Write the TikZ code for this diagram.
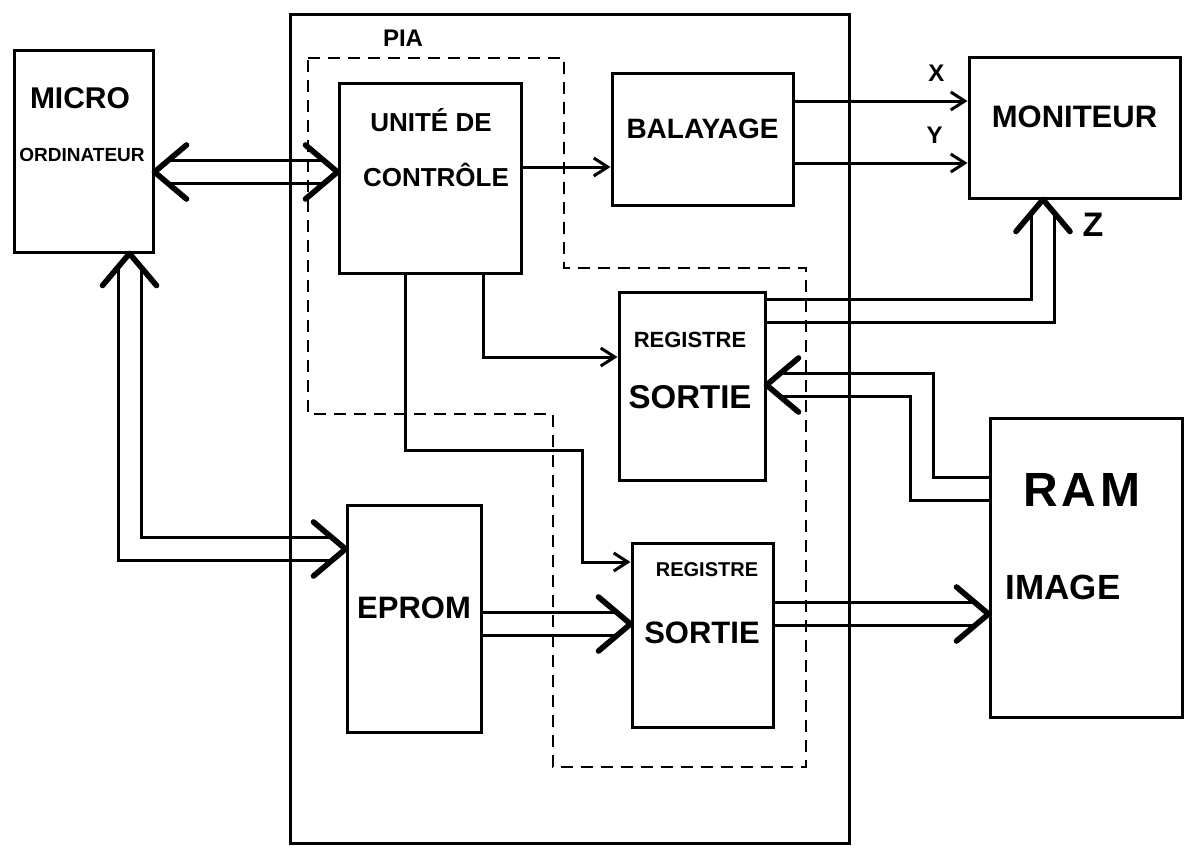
\documentclass[tikz,border=0pt]{standalone}
\usepackage{fontspec}
\setmainfont{Liberation Sans}
\usetikzlibrary{arrows.meta,positioning,fit,calc}

\begin{document}
\begin{tikzpicture}[x=0.5pt,y=-0.5pt,
  blk/.style={draw,line width=1.5pt,inner sep=0pt},
  txt/.style={inner sep=0pt,align=center},
  every node/.style={font=\bfseries},
  sig/.style={line width=1.5pt,-{Straight Barb[length=7pt,width=9pt]}},
  bus/.style={line width=1.5pt,double=white,double distance=10pt},
  hd/.style={line width=2.8pt,line cap=round,line join=round},
  pialine/.style={line width=1.3pt,dash pattern=on 6pt off 4pt}]
\useasboundingbox (0,0) rectangle (1194,847);
% blocs
\node[blk,fit={(14,50) (153,252)}] (micro) {};
\node[txt,font=\bfseries\fontsize{15}{17}\selectfont] (microA) at (80,98) {MICRO};
\node[txt,font=\bfseries\fontsize{9.5}{12}\selectfont] (microB) at (82,155) {ORDINATEUR};
\node[blk,fit={(339,83) (521,273)}] (ctrl) {};
\node[txt,font=\bfseries\fontsize{13}{15}\selectfont] (ctrlA) at (431,120) {UNITÉ DE};
\node[txt,font=\bfseries\fontsize{13}{15}\selectfont] (ctrlB) at (436,175) {CONTRÔLE};
\node[blk,fit={(612,73) (793,205)},font=\bfseries\fontsize{14}{16}\selectfont] (scan) {BALAYAGE};
\node[blk,fit={(969,57) (1180,198)},font=\bfseries\fontsize{15.5}{18}\selectfont] (monitor) {MONITEUR};
\node[blk,fit={(619,292) (765,480)}] (regA) {};
\node[txt,font=\bfseries\fontsize{11}{13}\selectfont] (regAa) at (690,340) {REGISTRE};
\node[txt,font=\bfseries\fontsize{16.5}{19}\selectfont] (regAb) at (690,397) {SORTIE};
\node[blk,fit={(632,543) (773,727)}] (regB) {};
\node[txt,font=\bfseries\fontsize{10}{12}\selectfont] (regBa) at (707,570) {REGISTRE};
\node[txt,font=\bfseries\fontsize{15.5}{18}\selectfont] (regBb) at (702,633) {SORTIE};
\node[blk,fit={(347,505) (481,732)},font=\bfseries\fontsize{15.5}{18}\selectfont] (eprom) {EPROM};
\node[blk,fit={(990,418) (1182,717)}] (ram) {};
\node[txt,font=\bfseries\fontsize{24}{28}\selectfont\addfontfeature{LetterSpace=8}] (ramA) at (1082,490) {RAM};
\node[txt,font=\bfseries\fontsize{17.5}{20}\selectfont] (ramB) at (1063,587) {IMAGE};
\node[txt,font=\bfseries\fontsize{12}{14}\selectfont] (pia) at (403,38) {PIA};
% bus
\coordinate (a1) at (micro.east |- 0,172);
\coordinate (a2) at (ctrl.west |- 0,172);
\draw[bus,shorten <=6pt,shorten >=6pt] (a1) -- (a2);
\draw[hd] ($(a1)+(32,-27)$) -- (a1) -- ++(32,27);
\draw[hd] ($(a2)+(-32,-27)$) -- (a2) -- ++(-32,27);
\coordinate (b1) at ($(micro.south)+(46,0)$);
\coordinate (b2) at (eprom.west |- 0,549);
\draw[bus,shorten <=6pt,shorten >=6pt] (b1) |- (b2);
\draw[hd] ($(b1)+(-27,32)$) -- (b1) -- ++(27,32);
\draw[hd] ($(b2)+(-32,-27)$) -- (b2) -- ++(-32,27);
\coordinate (c1) at (eprom.east |- 0,624);
\coordinate (c2) at (regB.west |- 0,624);
\draw[bus,shorten >=6pt] (c1) -- (c2);
\draw[hd] ($(c2)+(-32,-27)$) -- (c2) -- ++(-32,27);
\coordinate (d1) at (regB.east |- 0,614);
\coordinate (d2) at (ram.west |- 0,614);
\draw[bus,shorten >=6pt] (d1) -- (d2);
\draw[hd] ($(d2)+(-32,-27)$) -- (d2) -- ++(-32,27);
\coordinate (e1) at (regA.east |- 0,311);
\coordinate (e2) at (monitor.south -| 1043,0);
\draw[bus,shorten >=6pt] (e1) -| (e2);
\draw[hd] ($(e2)+(-27,32)$) -- (e2) -- ++(27,32);
\coordinate (f1) at (ram.west |- 0,489);
\coordinate (f2) at (regA.east |- 0,385);
\draw[bus,shorten >=6pt] (f1) -- (f1 -| 922,0) |- (f2);
\draw[hd] ($(f2)+(32,-27)$) -- (f2) -- ++(32,27);
\node[txt,font=\bfseries\fontsize{17}{19}\selectfont] (labZ) at (1093,225) {Z};
% signaux
\draw[sig] (ctrl.east |- 0,167) -- (scan.west |- 0,167);
\draw[sig] (scan.east |- 0,101) -- node[txt,pos=0.82,above=9pt,font=\bfseries\fontsize{12}{14}\selectfont] (labX) {X} (monitor.west |- 0,101);
\draw[sig] (scan.east |- 0,163) -- node[txt,pos=0.81,above=9pt,font=\bfseries\fontsize{12}{14}\selectfont] (labY) {Y} (monitor.west |- 0,163);
\draw[sig] (ctrl.south -| 483,0) |- (regA.west |- 0,357);
\draw[sig] (ctrl.south -| 405,0) |- (582,450) |- (regB.west |- 0,562);
% carte et PIA
\node[blk,fit={(290,14) (849,843)}] (board) {};
\draw[pialine] (308,58) -- (564,58) -- (564,268) -- (806,268) -- (806,767)
  -- (553,767) -- (553,414) -- (308,414) -- cycle;
\end{tikzpicture}
\end{document}
